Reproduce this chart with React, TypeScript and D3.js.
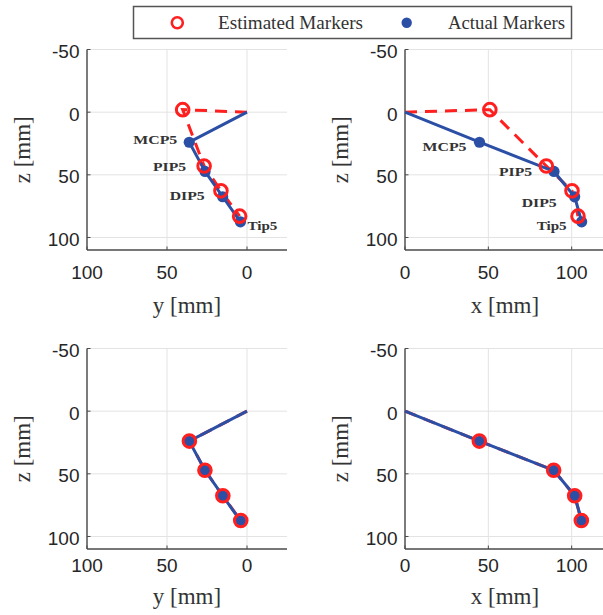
import React from "react";
import * as d3 from "d3";

// ---- data ----
const jointNames = ["MCP5", "PIP5", "DIP5", "Tip5"];
// actual marker positions (mm)
const actualX = [44.7, 89.4, 101.8, 106.0];
const actualY = [36.1, 26.2, 15.2, 4.1];
const actualZ = [24.0, 47.3, 67.5, 87.5];
// estimated marker positions (mm), top row
const estX = [50.9, 84.8, 100.2, 103.8];
const estY = [40.2, 26.8, 16.3, 4.6];
const estZ = [-2.0, 43.0, 62.8, 83.0];
// corrected estimates (mm), bottom row
const corrX = [44.6, 89.2, 101.8, 105.8];
const corrY = [36.0, 26.3, 15.1, 3.9];
const corrZ = [23.9, 47.2, 67.5, 87.3];
// origin of the chain
const originH = 0;
const originZ = 0;

const zTicks = [-50, 0, 50, 100];
const yTicks = [100, 50, 0];
const xTicks = [0, 50, 100];

const BLUE = "#2c4fa6";
const RED = "#ff1f1f";
const SANS = "'Liberation Sans', Arial, Helvetica, sans-serif";
const SERIF = "'Liberation Serif', 'Times New Roman', serif";

type LabelCfg = { dx: number; dy: number; anchor: string; w: number };

type PanelProps = {
  left: number;
  top: number;
  xDomain: [number, number];
  ticks: number[];
  xLabel: string;
  actH: number[];
  actZ: number[];
  estH: number[];
  estZ: number[];
  labels?: LabelCfg[];
  tickOff: number;
  labelOff: number;
};

const W = 200;
const H = 200.5;

function Panel({ left, top, xDomain, ticks, xLabel, actH, actZ, estH, estZ, labels, tickOff, labelOff }: PanelProps) {
  const xs = d3.scaleLinear().domain(xDomain).range([left, left + W]);
  const zs = d3.scaleLinear().domain([-50, 110]).range([top, top + H]);
  const line = d3
    .line<[number, number]>()
    .x((d) => xs(d[0]))
    .y((d) => zs(d[1]));
  const act: [number, number][] = [[originH, originZ], ...actH.map((h, i) => [h, actZ[i]] as [number, number])];
  const est: [number, number][] = [[originH, originZ], ...estH.map((h, i) => [h, estZ[i]] as [number, number])];
  const bottom = top + H;
  return (
    <g>
      {/* grid */}
      {zTicks.map((t) => (
        <line key={"gz" + t} x1={left} x2={left + W} y1={zs(t)} y2={zs(t)} stroke="#e3e3e3" strokeWidth={1} />
      ))}
      {ticks.map((t) => (
        <line key={"gx" + t} x1={xs(t)} x2={xs(t)} y1={top} y2={bottom} stroke="#e3e3e3" strokeWidth={1} />
      ))}
      {/* axes */}
      <line x1={left} x2={left} y1={top} y2={bottom} stroke="#4a4a4a" strokeWidth={1.4} />
      <line x1={left} x2={left + W} y1={bottom} y2={bottom} stroke="#4a4a4a" strokeWidth={1.4} />
      {zTicks.map((t) => (
        <g key={"tz" + t}>
          <line x1={left} x2={left + 3.5} y1={zs(t)} y2={zs(t)} stroke="#4a4a4a" strokeWidth={1} />
          <text x={left - 7.5} y={zs(t) + 8.5} textAnchor="end" fontFamily={SANS} fontSize={19} fill="#262626">
            {t}
          </text>
        </g>
      ))}
      {ticks.map((t) => (
        <g key={"tx" + t}>
          <line x1={xs(t)} x2={xs(t)} y1={bottom} y2={bottom - 3.5} stroke="#4a4a4a" strokeWidth={1} />
          <text x={xs(t)} y={bottom + tickOff} textAnchor="middle" fontFamily={SANS} fontSize={19} fill="#262626">
            {t}
          </text>
        </g>
      ))}
      {/* axis labels */}
      <text x={left + W / 2} y={bottom + labelOff} textAnchor="middle" fontFamily={SERIF} fontSize={23} fill="#333">
        {xLabel}
      </text>
      <text
        transform={`translate(${left - 57},${top + H / 2}) rotate(-90)`}
        textAnchor="middle"
        fontFamily={SERIF}
        fontSize={23}
        fill="#333"
      >
        z [mm]
      </text>
      {/* lines */}
      <path d={line(est) || ""} fill="none" stroke={RED} strokeWidth={3} strokeDasharray="12 8" />
      <path d={line(act) || ""} fill="none" stroke={BLUE} strokeWidth={3} />
      {/* markers */}
      {actH.map((h, i) => (
        <circle key={"a" + i} cx={xs(h)} cy={zs(actZ[i])} r={5.6} fill={BLUE} />
      ))}
      {estH.map((h, i) => (
        <circle key={"e" + i} cx={xs(h)} cy={zs(estZ[i])} r={6.3} fill="none" stroke={RED} strokeWidth={3} />
      ))}
      {/* joint labels */}
      {labels &&
        jointNames.map((n, i) => (
          <text
            key={"l" + n}
            x={xs(actH[i]) + labels[i].dx}
            y={zs(actZ[i]) + labels[i].dy}
            textAnchor={labels[i].anchor}
            fontFamily={SERIF}
            fontWeight="bold"
            fontSize={11.5}
            fill="#333"
            textLength={labels[i].w}
            lengthAdjust="spacingAndGlyphs"
          >
            {n}
          </text>
        ))}
    </g>
  );
}

const leftLabels: LabelCfg[] = [
  { dx: -12, dy: 2, anchor: "end", w: 44 },
  { dx: -19, dy: 0, anchor: "end", w: 33 },
  { dx: -18, dy: 3, anchor: "end", w: 35 },
  { dx: 7, dy: 8, anchor: "start", w: 30 },
];
const rightLabels: LabelCfg[] = [
  { dx: -13, dy: 8.5, anchor: "end", w: 44 },
  { dx: -22, dy: 5, anchor: "end", w: 33 },
  { dx: -18, dy: 10, anchor: "end", w: 35 },
  { dx: -15, dy: 8, anchor: "end", w: 30 },
];

export default function App() {
  return (
    <svg
      width={603}
      height={615}
      style={{ position: "absolute", left: 0, top: 0, background: "#fff" }}
    >
      <rect x={0} y={0} width={603} height={615} fill="#fff" />
      <Panel left={87} top={49.5} xDomain={[100, -25]} ticks={yTicks} xLabel="y [mm]"
        actH={actualY} actZ={actualZ} estH={estY} estZ={estZ} labels={leftLabels} tickOff={29} labelOff={63} />
      <Panel left={405} top={49.5} xDomain={[0, 120]} ticks={xTicks} xLabel="x [mm]"
        actH={actualX} actZ={actualZ} estH={estX} estZ={estZ} labels={rightLabels} tickOff={29} labelOff={63} />
      <Panel left={87} top={348.5} xDomain={[100, -25]} ticks={yTicks} xLabel="y [mm]"
        actH={actualY} actZ={actualZ} estH={corrY} estZ={corrZ} tickOff={23} labelOff={55} />
      <Panel left={405} top={348.5} xDomain={[0, 120]} ticks={xTicks} xLabel="x [mm]"
        actH={actualX} actZ={actualZ} estH={corrX} estZ={corrZ} tickOff={23} labelOff={55} />
      {/* legend */}
      <rect x={133.5} y={6.5} width={438} height={32} fill="#fff" stroke="#555" strokeWidth={1.5} />
      <circle cx={177.3} cy={22.7} r={5.5} fill="none" stroke={RED} strokeWidth={2.6} />
      <text x={218} y={28.5} fontFamily={SERIF} fontSize={18} fill="#333" textLength={145} lengthAdjust="spacingAndGlyphs">
        Estimated Markers
      </text>
      <circle cx={406.7} cy={22.7} r={5.2} fill={BLUE} />
      <text x={448} y={28.5} fontFamily={SERIF} fontSize={18} fill="#333" textLength={117} lengthAdjust="spacingAndGlyphs">
        Actual Markers
      </text>
    </svg>
  );
}
